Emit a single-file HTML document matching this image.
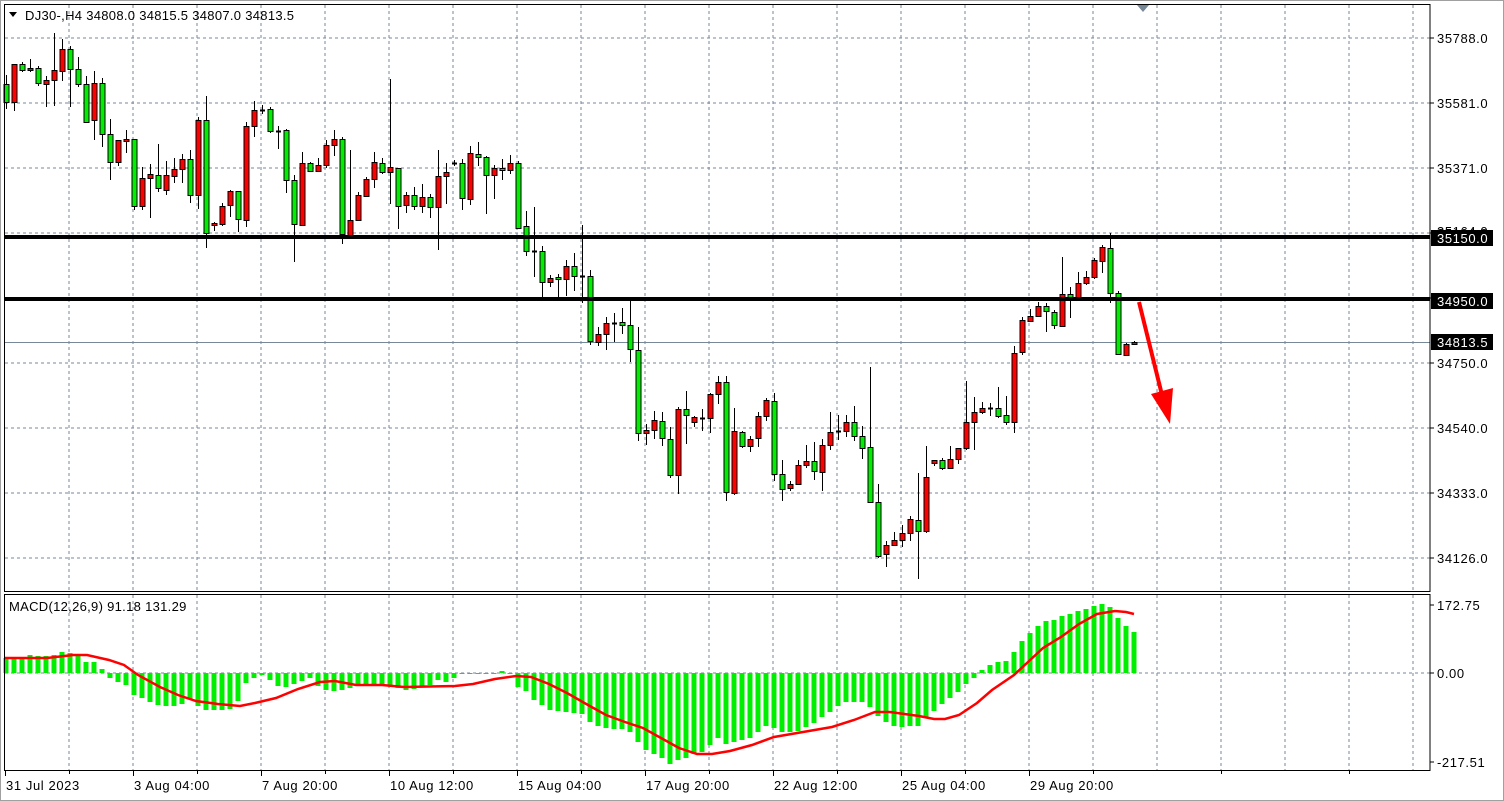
<!DOCTYPE html>
<html><head><meta charset="utf-8"><style>
html,body{margin:0;padding:0;background:#fff;}
svg{display:block;font-family:"Liberation Sans",sans-serif;}
</style></head><body>
<svg id="c" width="1504" height="801" xmlns="http://www.w3.org/2000/svg"></svg>
<script>
var C=[
[84,102,75,109,'g'],[64,102,64,111,'r'],[64,70,62,72,'g'],[68,70,59,72,'r'],[68,83,66,86,'g'],
[80,84,76,107,'r'],[70,80,33,106,'r'],[49,71,39,81,'r'],[49,69,46,107,'g'],[69,84,57,87,'g'],
[84,122,76,123,'g'],[83,120,71,140,'r'],[83,134,78,147,'g'],[134,162,119,180,'g'],[140,162,140,166,'r'],
[139,141,130,153,'r'],[139,206,139,210,'g'],[178,206,167,210,'r'],[174,178,164,218,'r'],[175,188,144,192,'g'],
[175,190,161,195,'r'],[169,176,158,183,'r'],[159,169,154,183,'r'],[159,195,150,203,'g'],[120,195,117,209,'r'],
[120,233,96,248,'g'],[223,224,222,231,'r'],[206,224,203,226,'r'],[191,205,190,217,'r'],[191,219,191,232,'g'],
[126,220,122,227,'r'],[110,126,101,137,'r'],[110,110,105,114,'d'],[109,131,107,133,'g'],[131,131,126,149,'d'],
[130,180,129,193,'g'],[180,224,175,262,'g'],[163,225,152,225,'r'],[163,171,162,172,'g'],[165,171,158,172,'r'],
[145,165,140,168,'r'],[139,145,130,156,'r'],[139,234,137,244,'g'],[220,235,150,235,'r'],[195,220,192,220,'r'],
[179,196,177,197,'r'],[162,179,152,188,'r'],[163,172,158,174,'g'],[167,172,79,204,'r'],[168,206,168,229,'g'],
[195,205,192,213,'r'],[195,206,187,210,'g'],[197,206,184,213,'r'],[197,207,194,218,'g'],[176,207,150,250,'r'],
[172,176,163,204,'r'],[163,163,160,166,'d'],[163,198,159,210,'g'],[153,199,146,205,'r'],[154,157,142,166,'g'],
[157,175,156,214,'g'],[168,175,165,199,'r'],[168,170,159,180,'g'],[163,170,155,174,'r'],[163,228,161,229,'g'],
[226,251,211,256,'g'],[251,251,207,277,'d'],[251,282,246,297,'g'],[278,282,275,287,'r'],[277,279,274,297,'g'],
[266,279,260,296,'r'],[266,276,253,291,'g'],[276,276,225,303,'d'],[276,341,270,345,'g'],[334,342,327,346,'r'],
[323,334,317,350,'r'],[323,323,313,342,'d'],[322,325,308,334,'g'],[325,349,300,362,'g'],[350,433,327,441,'g'],
[430,433,424,445,'r'],[420,430,411,439,'r'],[421,438,412,446,'g'],[439,475,427,478,'g'],[409,475,407,494,'r'],
[409,415,391,444,'g'],[417,422,416,427,'r'],[418,418,409,431,'d'],[394,418,393,433,'r'],[382,394,376,404,'r'],
[382,492,376,501,'g'],[431,493,408,495,'r'],[432,446,431,448,'g'],[439,446,436,452,'r'],[416,438,412,447,'r'],
[400,416,398,421,'r'],[401,474,393,481,'g'],[474,489,460,501,'g'],[484,488,481,491,'r'],[465,484,460,485,'r'],
[461,465,445,468,'r'],[461,471,442,480,'g'],[445,472,439,491,'r'],[432,445,412,450,'r'],[431,431,415,440,'d'],
[422,431,415,437,'r'],[422,436,406,441,'g'],[436,448,426,459,'g'],[447,502,367,503,'g'],[502,556,484,558,'g'],
[545,554,541,567,'r'],[540,545,532,546,'r'],[533,540,525,547,'r'],[519,533,516,541,'r'],[520,531,473,579,'g'],
[477,531,446,533,'r'],[460,463,460,466,'r'],[460,468,458,470,'g'],[459,468,446,468,'r'],[448,459,448,464,'r'],
[422,448,381,450,'r'],[412,422,397,450,'r'],[408,412,402,414,'r'],[408,408,403,416,'d'],[408,416,387,418,'g'],
[415,422,396,425,'g'],[353,422,346,433,'r'],[320,352,317,355,'r'],[316,321,309,321,'r'],[306,316,302,317,'r'],
[306,311,303,332,'g'],[312,325,310,329,'g'],[294,326,257,327,'r'],[294,297,287,318,'g'],[283,297,272,297,'r'],
[277,283,271,285,'r'],[260,277,258,279,'r'],[247,261,245,273,'r'],[248,293,233,303,'g'],[293,354,291,355,'g'],
[344,355,343,356,'r'],[342,344,341,344,'r']];
var H=[15,15,16,18,17,17,18,21,20,18,11,11,4,-5,-9,-12,-22,-25,-29,-32,
-33,-33,-31,-26,-33,-37,-37,-37,-36,-28,-10,-5,-2,-7,-13,-14,-11,-8,-5,-13,
-17,-18,-17,-15,-13,-13,-13,-13,-12,-15,-17,-16,-14,-12,-7,-9,-5,-1,-1,-1,
-1,-1,2,-1,-14,-18,-27,-32,-37,-38,-39,
-40,-41,-49,-53,-55,-56,-56,-59,-69,-77,-81,-85,-91,-87,-85,-81,-79,-72,-65,-71,
-69,-67,-65,-59,-53,-55,-59,-59,-58,-54,-50,-44,-39,-33,-29,-29,-29,-34,-43,-49,
-53,-54,-53,-53,-44,-38,-31,-25,-19,-11,-5,3,8,11,12,21,32,40,47,52,
53,57,59,62,64,67,69,66,55,47,41];
var S=[[5,658],[47,658],[73,655],[87,655],[109,660],[124,665],[138,675],[160,687],[178,695],[196,701],[218,704],[240,706],[255,703],[276,698],[298,689],[320,682],[335,681],[356,685],[382,685],[404,687],[455,686],[473,684],[495,679],[516,676],[531,677],[549,684],[567,693],
[588,705],[606,715],[625,722],[643,728],[661,738],[679,748],[697,754],[712,754],[730,751],[752,745],[774,737],[803,732],[832,727],[854,720],[875,712],[890,712],[919,716],[934,719],[945,719],[959,715],[977,703],[992,690],[1014,675],[1028,662],[1043,648],[1061,637],[1079,624],[1097,614],[1115,611],[1126,612],[1134,614]];
var o='';
var F=' font-size="13" letter-spacing="0.6"';
var grid='#778899';
for(var x=69;x<1430;x+=64){o+='<line x1="'+x+'" y1="5" x2="'+x+'" y2="591" stroke="'+grid+'" stroke-dasharray="3,3"/>';
o+='<line x1="'+x+'" y1="595" x2="'+x+'" y2="770" stroke="'+grid+'" stroke-dasharray="3,3"/>';}
var pl=['35788.0','35581.0','35371.0','35164.0','34957.0','34750.0','34540.0','34333.0','34126.0'];
for(var k=0;k<9;k++){var y=38+65*k;o+='<line x1="5" y1="'+y+'" x2="1430" y2="'+y+'" stroke="'+grid+'" stroke-dasharray="3,3"/>';
o+='<line x1="1430" y1="'+y+'" x2="1434" y2="'+y+'" stroke="#000"/>';
if(k!=4)o+='<text x="1437" y="'+(y+5)+'"'+F+'>'+pl[k]+'</text>';}
o+='<line x1="5" y1="673" x2="1430" y2="673" stroke="'+grid+'" stroke-dasharray="3,3"/>';
o+='<line x1="5" y1="342.5" x2="1430" y2="342.5" stroke="#778899"/>';
for(var i=0;i<H.length;i++){var cx=6+8*i,h=H[i];o+='<rect x="'+(cx-2.5)+'" y="'+(h>0?673-h:673)+'" width="5" height="'+Math.max(Math.abs(h),1)+'" fill="#00ee00"/>';}
o+='<polyline fill="none" stroke="#ff0000" stroke-width="2.5" points="'+S.map(function(p){return p.join(',')}).join(' ')+'"/>';
for(var i=0;i<C.length;i++){var c=C[i],cx=6+8*i;
o+='<line x1="'+(cx+0.5)+'" y1="'+c[2]+'" x2="'+(cx+0.5)+'" y2="'+c[3]+'" stroke="#000"/>';
if(c[4]=='d'){o+='<line x1="'+(cx-2)+'" y1="'+(c[0]+0.5)+'" x2="'+(cx+3)+'" y2="'+(c[0]+0.5)+'" stroke="#000" stroke-width="2"/>';}
else{var hh=Math.max(c[1]-c[0],2);o+='<rect x="'+(cx-2)+'" y="'+(c[0]+0.5)+'" width="5" height="'+hh+'" fill="'+(c[4]=='g'?'#00ee00':'#ff0000')+'" stroke="#000"/>';}}
o+='<rect x="5" y="235" width="1425" height="4" fill="#000"/><rect x="5" y="297" width="1425" height="4" fill="#000"/>';
o+='<text x="1437" y="236"'+F+'>35164.0</text>';
function box(y,t){return '<rect x="1431" y="'+(y-8)+'" width="62" height="16" fill="#000"/><text x="1437" y="'+(y+5)+'"'+F+' fill="#fff">'+t+'</text>';}
o+=box(238,'35150.0')+box(301,'34950.0')+box(342,'34813.5');
o+='<line x1="1139" y1="302" x2="1162" y2="395" stroke="#ff0000" stroke-width="4"/>';
o+='<polygon points="1151,394 1173,388 1170,424" fill="#ff0000"/>';
o+='<polygon points="1137,5 1149,5 1143,12" fill="#778899"/>';
o+='<rect x="4.5" y="4.5" width="1425.5" height="587" fill="none" stroke="#000"/>';
o+='<rect x="4.5" y="594.5" width="1425.5" height="176" fill="none" stroke="#000"/>';
o+='<line x1="0" y1="0.5" x2="1504" y2="0.5" stroke="#a0a0a0"/><line x1="1503.5" y1="0" x2="1503.5" y2="801" stroke="#a0a0a0"/><line x1="0" y1="800.5" x2="1504" y2="800.5" stroke="#a0a0a0"/><line x1="0.5" y1="0" x2="0.5" y2="801" stroke="#a0a0a0"/>';
var ml=[[605,'172.75'],[673,'0.00'],[762,'-217.51']];
ml.forEach(function(m){o+='<line x1="1430" y1="'+m[0]+'" x2="1434" y2="'+m[0]+'" stroke="#000"/><text x="1437" y="'+(m[0]+5)+'"'+F+'>'+m[1]+'</text>';});
var xl=[[5,'31 Jul 2023'],[133,'3 Aug 04:00'],[261,'7 Aug 20:00'],[389,'10 Aug 12:00'],[517,'15 Aug 04:00'],[645,'17 Aug 20:00'],[773,'22 Aug 12:00'],[901,'25 Aug 04:00'],[1029,'29 Aug 20:00']];
xl.forEach(function(m){o+='<line x1="'+m[0]+'.5" y1="771" x2="'+m[0]+'.5" y2="776" stroke="#000"/><text x="'+(m[0]+1)+'" y="790"'+F+'>'+m[1]+'</text>';});
for(var x=69;x<1430;x+=64){if((x-5)%128!=0)o+='<line x1="'+x+'.5" y1="771" x2="'+x+'.5" y2="774" stroke="#000"/>';}
o+='<polygon points="9,12 17,12 13,17" fill="#000"/>';
o+='<text x="25" y="20" font-size="13" letter-spacing="0.3">DJ30-,H4  34808.0 34815.5 34807.0 34813.5</text>';
o+='<text x="9" y="611" font-size="13" letter-spacing="0.3">MACD(12,26,9) 91.18 131.29</text>';
document.getElementById('c').innerHTML=o;
</script>
</body></html>
